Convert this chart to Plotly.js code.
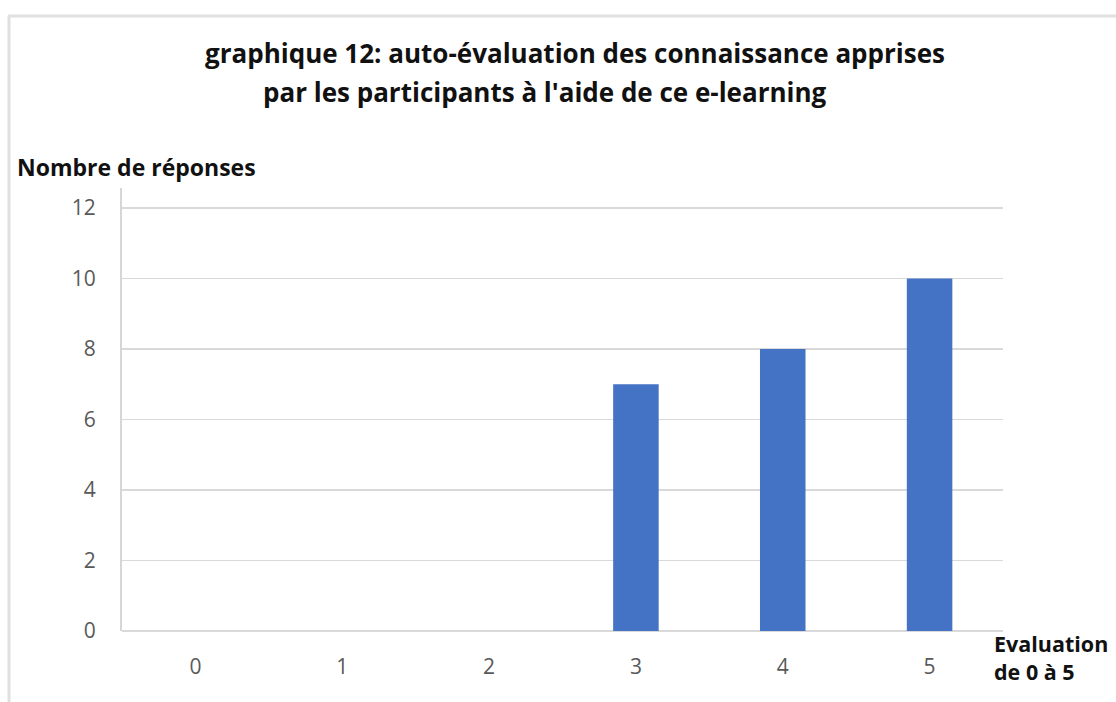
<!DOCTYPE html>
<html>
<head>
<meta charset="utf-8">
<script src="https://cdn.plot.ly/plotly-3.0.1.min.js"></script>
<style>
html,body{margin:0;padding:0;background:#fff;}
#chart{width:1116px;height:702px;}
</style>
</head>
<body>
<div id="chart"></div>
<script>
const categories = ["0", "1", "2", "3", "4", "5"];
const responses = [0, 0, 0, 7, 8, 10];
const yTicks = [0, 2, 4, 6, 8, 10, 12];
const titleLine1 = "graphique 12: auto-évaluation des connaissance apprises";
const titleLine2 = "par les participants à l'aide de ce e-learning";
const yTitle = "Nombre de réponses";
const xTitle = "Evaluation<br>de 0 à 5";

const L = 122, R = 1003, T = 188, B = 631, W = 1116, H = 702;
const px = x => (x - L) / (R - L);
const py = y => (B - y) / (B - T);

const trace = {
  type: 'bar',
  x: categories,
  y: responses,
  width: 0.31,
  marker: {color: '#4472C4'},
  hoverinfo: 'x+y'
};

const layout = {
  width: W, height: H,
  margin: {l: L, r: W - R, t: T, b: H - B, pad: 0},
  paper_bgcolor: '#ffffff',
  plot_bgcolor: '#ffffff',
  showlegend: false,
  font: {family: 'Open Sans, sans-serif', color: '#595959'},
  xaxis: {
    type: 'category',
    tickfont: {size: 21, color: '#595959', family: 'Open Sans, sans-serif'},
    ticks: 'outside', ticklen: 17, tickcolor: 'rgba(0,0,0,0)',
    showgrid: false, zeroline: false, showline: false,
    fixedrange: true
  },
  yaxis: {
    range: [0, 12.57],
    tickvals: yTicks,
    ticktext: yTicks.map(String),
    tickfont: {size: 21, color: '#595959', family: 'Open Sans, sans-serif'},
    ticks: 'outside', ticklen: 20, tickcolor: 'rgba(0,0,0,0)',
    showgrid: true, gridcolor: '#d9d9d9', gridwidth: 1.5,
    zeroline: true, zerolinecolor: '#d9d9d9', zerolinewidth: 1.5,
    showline: true, linecolor: '#d6d6d6', linewidth: 2,
    fixedrange: true
  },
  shapes: [
    {type: 'line', xref: 'paper', yref: 'paper', x0: px(8), x1: px(W + 5), y0: py(16), y1: py(16),
     line: {color: '#e0e0e0', width: 3}},
    {type: 'line', xref: 'paper', yref: 'paper', x0: px(9), x1: px(9), y0: py(16), y1: py(H + 5),
     line: {color: '#e0e0e0', width: 3}}
  ],
  annotations: [
    {text: '<b>' + titleLine1 + '</b>', xref: 'paper', yref: 'paper', x: px(575), y: py(53),
     xanchor: 'center', yanchor: 'middle', showarrow: false,
     font: {family: 'Open Sans, sans-serif', size: 26, color: '#111111'}},
    {text: '<b>' + titleLine2 + '</b>', xref: 'paper', yref: 'paper', x: px(545), y: py(92),
     xanchor: 'center', yanchor: 'middle', showarrow: false,
     font: {family: 'Open Sans, sans-serif', size: 26, color: '#111111'}},
    {text: '<b>' + yTitle + '</b>', xref: 'paper', yref: 'paper', x: px(15), y: py(167),
     xanchor: 'left', yanchor: 'middle', showarrow: false,
     font: {family: 'Open Sans, sans-serif', size: 23, color: '#111111'}},
    {text: '<b>' + xTitle + '</b>', xref: 'paper', yref: 'paper', x: px(992), y: py(657),
     xanchor: 'left', yanchor: 'middle', align: 'left', showarrow: false,
     font: {family: 'Open Sans, sans-serif', size: 21.5, color: '#111111'}}
  ]
};

Plotly.newPlot('chart', [trace], layout, {displayModeBar: false, staticPlot: true});
</script>
</body>
</html>
